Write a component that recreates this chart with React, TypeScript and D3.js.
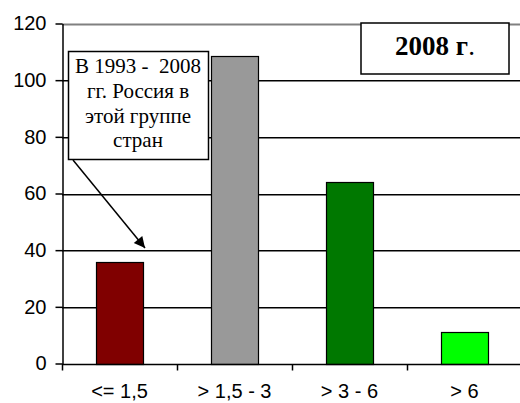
import React, { useEffect, useRef } from 'react';
import * as d3 from 'd3';

// Data
const categories: string[] = ['<= 1,5', '> 1,5 - 3', '> 3 - 6', '> 6'];
const values: number[] = [36, 108.5, 64, 11];
const barColors: string[] = ['#800000', '#999999', '#007800', '#00ff00'];
const yTicks: number[] = [0, 20, 40, 60, 80, 100, 120];
const noteLines: string[] = ['В 1993 -  2008', 'гг. Россия в', 'этой группе', 'стран'];
const titleText = '2008 г';

const width = 520;
const height = 403;
const margin = { top: 23.5, right: -2, bottom: 39.5, left: 62 };

const y = d3.scaleLinear()
  .domain([0, 120])
  .range([height - margin.bottom, margin.top]);

const App = () => {
  const gRef = useRef<SVGGElement>(null);

  useEffect(() => {
    const svg = d3.select(gRef.current);
    svg.selectAll('*').remove();

    const x = d3.scaleBand<string>()
      .domain(categories)
      .range([margin.left, width - margin.right])
      .paddingInner(0.59)
      .paddingOuter(0.295);

    const step = x.step();
    const left = margin.left;
    const right = width - margin.right;
    const serif = '"Liberation Serif", "Times New Roman", serif';
    const sans = '"Liberation Sans", Arial, sans-serif';

    // Gridlines as thin filled rects
    svg.append('g')
      .selectAll('rect')
      .data(yTicks.filter(d => d > 0))
      .join('rect')
      .attr('x', left)
      .attr('y', d => Math.round(y(d)) - (d === 120 ? 0.5 : 0))
      .attr('width', right - left)
      .attr('height', d => (d === 120 ? 2 : 1.5))
      .attr('fill', d => (d === 120 ? '#808080' : '#000000'));

    // Bars
    svg.append('g')
      .selectAll('rect')
      .data(values)
      .join('rect')
      .attr('x', (d, i) => Math.round(x(categories[i])!) + 0.5)
      .attr('y', d => Math.round(y(d)) + 0.5)
      .attr('width', Math.round(x.bandwidth()))
      .attr('height', d => Math.round(y(0)) - Math.round(y(d)))
      .attr('fill', (d, i) => barColors[i])
      .attr('stroke', '#000')
      .attr('stroke-width', 1.2);

    // Y axis
    const yAxis = svg.append('g')
      .attr('transform', `translate(${left + 0.5},0)`)
      .call(d3.axisLeft(y).tickValues(yTicks).tickSize(7).tickPadding(9).tickSizeOuter(0));
    yAxis.select('.domain').attr('stroke', '#000').attr('stroke-width', 1.5);
    yAxis.selectAll('line').attr('stroke', '#000').attr('stroke-width', 1.5);
    yAxis.selectAll('text')
      .style('font-family', sans)
      .style('font-size', '20px')
      .attr('fill', '#000');

    // X axis baseline and category ticks
    const y0 = Math.round(y(0)) + 0.5;
    svg.append('line')
      .attr('x1', left).attr('x2', right)
      .attr('y1', y0).attr('y2', y0)
      .attr('stroke', '#000').attr('stroke-width', 1.5);

    svg.append('g')
      .selectAll('line')
      .data(d3.range(categories.length))
      .join('line')
      .attr('x1', i => left + i * step + 0.5)
      .attr('x2', i => left + i * step + 0.5)
      .attr('y1', y0)
      .attr('y2', y0 + 6)
      .attr('stroke', '#000')
      .attr('stroke-width', 1.5);

    svg.append('g')
      .selectAll('text')
      .data(categories)
      .join('text')
      .attr('x', d => x(d)! + x.bandwidth() / 2)
      .attr('y', 398)
      .attr('text-anchor', 'middle')
      .style('font-family', sans)
      .style('font-size', '20px')
      .text(d => d);

    // Annotation arrow
    const defs = svg.append('defs');
    defs.append('marker')
      .attr('id', 'arrow')
      .attr('viewBox', '0 0 10 10')
      .attr('refX', 10)
      .attr('refY', 5)
      .attr('markerWidth', 15)
      .attr('markerHeight', 11)
      .attr('markerUnits', 'userSpaceOnUse')
      .attr('orient', 'auto')
      .append('path')
      .attr('d', 'M0,0 L10,5 L0,10 z')
      .attr('fill', '#000');

    svg.append('line')
      .attr('x1', 73).attr('y1', 160)
      .attr('x2', 145).attr('y2', 248)
      .attr('stroke', '#000')
      .attr('stroke-width', 1.5)
      .attr('marker-end', 'url(#arrow)');

    // Annotation box
    svg.append('rect')
      .attr('x', 68.5).attr('y', 51.5)
      .attr('width', 140).attr('height', 108)
      .attr('fill', '#fff')
      .attr('stroke', '#000')
      .attr('stroke-width', 1.5);

    svg.append('g')
      .selectAll('text')
      .data(noteLines)
      .join('text')
      .attr('x', 138)
      .attr('y', (d, i) => 73 + i * 24.8)
      .attr('text-anchor', 'middle')
      .style('font-family', serif)
      .style('font-size', '21px')
      .style('white-space', 'pre')
      .text(d => d);

    // Title box
    svg.append('rect')
      .attr('x', 361).attr('y', 23)
      .attr('width', 148).attr('height', 51)
      .attr('fill', '#fff')
      .attr('stroke', '#000')
      .attr('stroke-width', 1.5);

    const title = svg.append('text')
      .attr('x', 435)
      .attr('y', 55)
      .attr('text-anchor', 'middle')
      .style('font-family', serif)
      .style('font-size', '27px');
    title.append('tspan').attr('font-weight', 'bold').text(titleText);
    title.append('tspan').text('.');
  }, []);

  return (
    <div style={{ position: 'absolute', left: 0, top: 0 }}>
      <svg width={width} height={height} style={{ display: 'block' }}>
        <g ref={gRef}></g>
      </svg>
    </div>
  );
};

export default App;
